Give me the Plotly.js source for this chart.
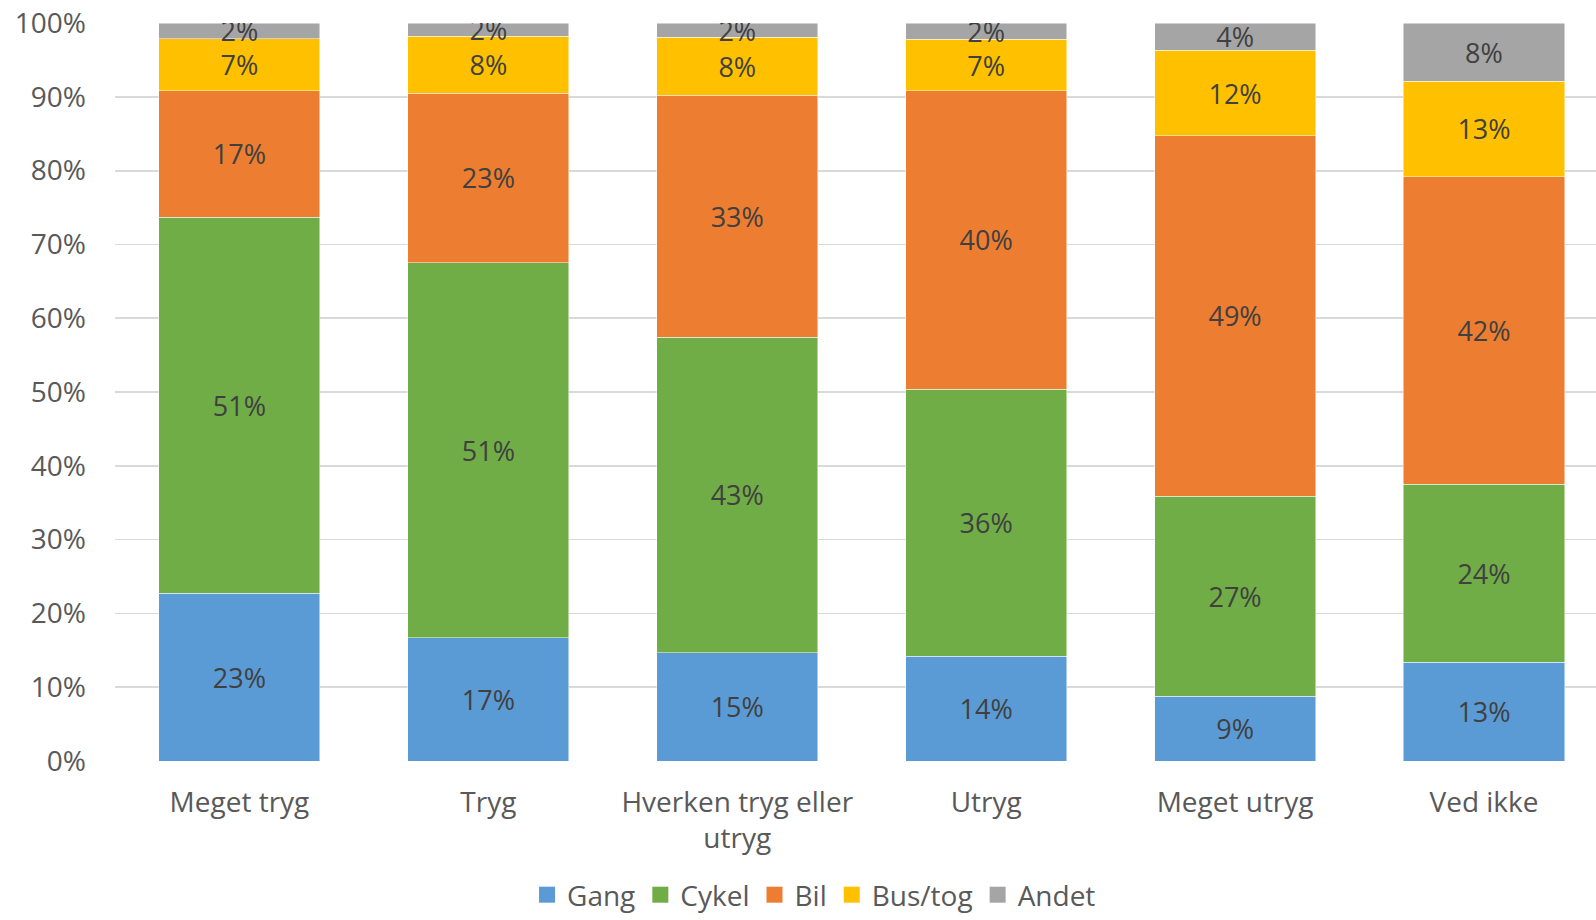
<!DOCTYPE html>
<html>
<head>
<meta charset="utf-8">
<script src="https://cdn.plot.ly/plotly-3.0.1.min.js"></script>
<style>
html,body{margin:0;padding:0;background:#fff;}
#chart{width:1596px;height:920px;}
</style>
</head>
<body>
<div id="chart"></div>
<script>
const categories = ["Meget tryg", "Tryg", "Hverken tryg eller<br>utryg", "Utryg", "Meget utryg", "Ved ikke"];
const gang   = [22.7, 16.7, 14.7, 14.2, 8.8, 13.4];
const cykel  = [51.0, 50.8, 42.7, 36.2, 27.1, 24.1];
const bil    = [17.1, 23.0, 32.8, 40.4, 48.8, 41.7];
const bustog = [7.1, 7.7, 7.9, 7.0, 11.6, 12.9];
const andet  = [2.1, 1.8, 1.9, 2.2, 3.7, 7.9];
const seriesNames = ["Gang", "Cykel", "Bil", "Bus/tog", "Andet"];
const seriesColors = ["#5B9BD5", "#70AD47", "#ED7D31", "#FFC000", "#A5A5A5"];
const seriesValues = [gang, cykel, bil, bustog, andet];

const FONT = "Open Sans, Noto Sans, sans-serif";

const barTraces = seriesValues.map((vals, i) => ({
  type: "bar",
  name: seriesNames[i],
  x: categories,
  y: vals.map(v => v / 100),
  marker: {color: seriesColors[i], line: {color: "rgba(255,255,255,0.6)", width: 0.8}},
  text: vals.map(v => Math.round(v) + "%"),
  textposition: "inside",
  insidetextanchor: "middle",
  constraintext: "none",
  textangle: 0,
  textfont: {family: FONT, size: 27, color: "#404040"},
  hoverinfo: "skip",
  showlegend: false
}));

const legendTraces = seriesNames.map((n, i) => ({
  type: "scatter",
  mode: "markers",
  name: n,
  x: [null],
  y: [null],
  marker: {symbol: "square", size: 16, color: seriesColors[i]},
  hoverinfo: "skip",
  showlegend: true
}));

const layout = {
  width: 1596,
  height: 920,
  barmode: "stack",
  bargap: 0.353,
  paper_bgcolor: "#ffffff",
  plot_bgcolor: "#ffffff",
  margin: {l: 115, r: 0, t: 23, b: 159},
  font: {family: FONT, color: "#595959"},
  xaxis: {
    type: "category",
    range: [-0.5, 5.45],
    showgrid: false,
    showline: false,
    zeroline: false,
    ticks: "",
    automargin: false,
    ticklabelstandoff: 22,
    tickfont: {family: FONT, size: 28, color: "#595959"}
  },
  yaxis: {
    range: [0, 1],
    tickvals: [0, 0.1, 0.2, 0.3, 0.4, 0.5, 0.6, 0.7, 0.8, 0.9, 1.0],
    tickformat: ".0%",
    showgrid: true,
    gridcolor: "#d9d9d9",
    gridwidth: 1.8,
    zeroline: false,
    showline: false,
    ticks: "",
    automargin: false,
    ticklabelstandoff: 28,
    tickfont: {family: FONT, size: 28, color: "#595959"}
  },
  showlegend: true,
  legend: {
    orientation: "h",
    xref: "paper",
    x: 0.472,
    xanchor: "center",
    yref: "container",
    y: 0.0,
    yanchor: "bottom",
    font: {family: FONT, size: 28, color: "#595959"},
    itemsizing: "trace",
    itemwidth: 30,
    tracegroupgap: 0,
    traceorder: "normal"
  }
};

Plotly.newPlot("chart", barTraces.concat(legendTraces), layout, {displayModeBar: false, staticPlot: true});
</script>
</body>
</html>
